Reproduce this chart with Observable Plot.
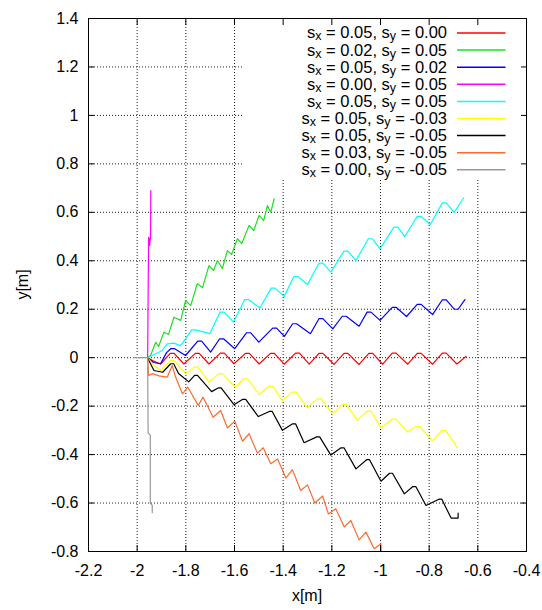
<!DOCTYPE html>
<html><head><meta charset="utf-8">
<script src="https://cdn.jsdelivr.net/npm/d3@7"></script>
<script src="https://cdn.jsdelivr.net/npm/@observablehq/plot@0.6"></script>
<style>
html,body{margin:0;padding:0;background:#fff;}
#chart{width:542px;height:610px;}
</style></head><body><div id="chart"></div>
<script>
// ---- tick values ----
const xTicks = [-2.2, -2, -1.8, -1.6, -1.4, -1.2, -1, -0.8, -0.6, -0.4];
const yTicks = [-0.8, -0.6, -0.4, -0.2, 0, 0.2, 0.4, 0.6, 0.8, 1, 1.2, 1.4];
const xLabel = "x[m]";
const yLabel = "y[m]";

// ---- series legend values ----
const sxLabels = ["0.05", "0.02", "0.05", "0.00", "0.05", "0.05", "0.05", "0.03", "0.00"];
const syLabels = ["0.00", "0.05", "0.02", "0.05", "0.05", "-0.03", "-0.05", "-0.05", "-0.05"];
const seriesColors = ["#ff0000", "#1ee01e", "#0000ff", "#ff00ff", "#00ffff", "#ffff00", "#000000", "#ff6a30", "#999999"];

// ---- trajectories [x, y] ----
const red = [[-1.957,0],[-1.937,-0.012],[-1.904,-0.026],
  [-1.864,0.018],[-1.848,0.018],[-1.808,-0.026],
  [-1.761,0.018],[-1.745,0.018],[-1.705,-0.026],
  [-1.658,0.019],[-1.642,0.019],[-1.602,-0.025],
  [-1.555,0.018],[-1.539,0.018],[-1.499,-0.026],
  [-1.452,0.018],[-1.436,0.018],[-1.396,-0.027],
  [-1.349,0.019],[-1.333,0.019],[-1.293,-0.027],
  [-1.253,0.018],[-1.237,0.018],[-1.191,-0.028],
  [-1.150,0.018],[-1.134,0.018],[-1.088,-0.028],
  [-1.048,0.018],[-1.032,0.018],[-0.991,-0.027],
  [-0.952,0.019],[-0.936,0.019],[-0.888,-0.027],
  [-0.849,0.018],[-0.833,0.018],[-0.786,-0.027],
  [-0.746,0.019],[-0.730,0.019],[-0.686,-0.026],[-0.649,0.005]];
const green = [[-1.957,0],[-1.945,0.009],[-1.924,0.064],[-1.912,0.046],[-1.890,0.105],[-1.871,0.096],[-1.849,0.167],[-1.821,0.154],[-1.801,0.236],[-1.780,0.215],[-1.753,0.305],[-1.731,0.290],[-1.705,0.380],[-1.686,0.360],[-1.670,0.401],[-1.650,0.368],[-1.629,0.442],[-1.612,0.426],[-1.588,0.491],[-1.570,0.471],[-1.540,0.546],[-1.521,0.525],[-1.499,0.587],[-1.480,0.566],[-1.465,0.628],[-1.451,0.600],[-1.437,0.656]];
const blue = [[-1.957,0],[-1.933,-0.020],[-1.904,-0.025],[-1.879,0.021],[-1.862,0.037],[-1.846,0.037],[-1.801,0.009],
  [-1.751,0.068],[-1.735,0.068],[-1.698,0.023],
  [-1.661,0.078],[-1.645,0.078],[-1.599,0.037],
  [-1.550,0.103],[-1.534,0.103],[-1.500,0.064],
  [-1.443,0.122],[-1.427,0.122],[-1.395,0.088],
  [-1.361,0.140],[-1.345,0.140],[-1.288,0.099],
  [-1.253,0.161],[-1.237,0.161],[-1.196,0.119],
  [-1.157,0.171],[-1.141,0.171],[-1.088,0.130],
  [-1.055,0.188],[-1.039,0.188],[-1.002,0.154],
  [-0.952,0.208],[-0.936,0.208],[-0.893,0.170],
  [-0.849,0.220],[-0.833,0.220],[-0.786,0.178],
  [-0.746,0.239],[-0.730,0.239],[-0.697,0.200],[-0.681,0.200],[-0.653,0.240]];
const magenta = [[-1.957,0],[-1.953,0.497],[-1.951,0.490],[-1.949,0.463],[-1.945,0.500],[-1.944,0.690]];
const cyan = [[-1.957,0],[-1.897,0.030],[-1.876,0.057],[-1.849,0.060],[-1.821,0.050],
  [-1.776,0.115],[-1.760,0.115],[-1.702,0.099],
  [-1.659,0.188],[-1.643,0.188],[-1.604,0.147],
  [-1.558,0.240],[-1.542,0.240],[-1.496,0.205],
  [-1.449,0.287],[-1.433,0.287],[-1.396,0.252],
  [-1.356,0.335],[-1.340,0.335],[-1.300,0.302],
  [-1.253,0.390],[-1.237,0.390],[-1.204,0.353],
  [-1.150,0.440],[-1.134,0.440],[-1.101,0.401],
  [-1.050,0.491],[-1.034,0.491],[-1.002,0.449],
  [-0.945,0.539],[-0.929,0.539],[-0.900,0.500],
  [-0.849,0.583],[-0.833,0.583],[-0.795,0.550],
  [-0.746,0.639],[-0.730,0.639],[-0.697,0.600],[-0.658,0.660]];
const yellow = [[-1.957,0],[-1.938,-0.025],[-1.904,-0.053],[-1.864,-0.012],[-1.848,-0.012],[-1.801,-0.066],
  [-1.766,-0.039],[-1.750,-0.039],[-1.705,-0.101],
  [-1.665,-0.066],[-1.649,-0.066],[-1.597,-0.122],
  [-1.562,-0.087],[-1.546,-0.087],[-1.499,-0.152],
  [-1.459,-0.118],[-1.443,-0.118],[-1.403,-0.177],
  [-1.363,-0.142],[-1.347,-0.142],[-1.300,-0.206],
  [-1.260,-0.170],[-1.244,-0.170],[-1.197,-0.232],
  [-1.157,-0.193],[-1.141,-0.193],[-1.095,-0.259],
  [-1.055,-0.221],[-1.039,-0.221],[-0.998,-0.289],
  [-0.952,-0.254],[-0.936,-0.254],[-0.888,-0.307],
  [-0.855,-0.284],[-0.839,-0.284],[-0.786,-0.342],
  [-0.748,-0.300],[-0.732,-0.300],[-0.683,-0.372]];
const black = [[-1.957,0],[-1.952,-0.012],[-1.931,-0.053],[-1.895,-0.060],[-1.862,-0.025],[-1.850,-0.025],[-1.830,-0.065],[-1.788,-0.100],
  [-1.764,-0.073],[-1.752,-0.073],[-1.694,-0.140],
  [-1.667,-0.125],[-1.655,-0.125],[-1.602,-0.194],
  [-1.566,-0.172],[-1.554,-0.172],[-1.502,-0.243],
  [-1.457,-0.222],[-1.445,-0.222],[-1.403,-0.300],
  [-1.361,-0.273],[-1.349,-0.273],[-1.314,-0.351],
  [-1.262,-0.327],[-1.250,-0.327],[-1.204,-0.402],
  [-1.162,-0.372],[-1.150,-0.372],[-1.101,-0.459],
  [-1.057,-0.421],[-1.045,-0.421],[-0.998,-0.510],
  [-0.963,-0.477],[-0.951,-0.477],[-0.902,-0.562],
  [-0.867,-0.532],[-0.855,-0.532],[-0.813,-0.610],
  [-0.760,-0.584],[-0.748,-0.584],[-0.710,-0.662],[-0.681,-0.662],[-0.681,-0.642]];
const orange = [[-1.957,0],[-1.953,-0.073],[-1.938,-0.066],[-1.911,-0.075],[-1.876,-0.080],[-1.856,-0.032],[-1.842,-0.080],[-1.814,-0.149],[-1.792,-0.122],[-1.749,-0.197],[-1.729,-0.163],[-1.688,-0.246],[-1.657,-0.218],[-1.629,-0.290],[-1.599,-0.262],[-1.567,-0.345],[-1.540,-0.314],[-1.506,-0.394],[-1.482,-0.372],[-1.451,-0.438],[-1.423,-0.418],[-1.389,-0.497],[-1.362,-0.462],[-1.328,-0.548],[-1.300,-0.525],[-1.270,-0.600],[-1.238,-0.571],[-1.214,-0.645],[-1.184,-0.624],[-1.149,-0.699],[-1.122,-0.672],[-1.088,-0.752],[-1.060,-0.720],[-1.026,-0.789],[-0.998,-0.768],[-0.997,-0.800]];
const gray = [[-2.015,0],[-1.957,0],[-1.955,-0.310],[-1.946,-0.320],[-1.946,-0.600],[-1.938,-0.610],[-1.938,-0.640]];

const seriesData = [red, green, blue, magenta, cyan, yellow, black, orange, gray];
const keys = sxLabels.map((sx, i) => `sx = ${sx}, sy = ${syLabels[i]}`);
const rows = seriesData.flatMap((pts, i) => pts.map(([x, y]) => ({x, y, key: keys[i]})));

// ---- layout ----
const W = 542, H = 610, mL = 88, mR = 16, mT = 18, mB = 59;
const fmt = v => String(Math.round(v * 10) / 10);
const gridStyle = {stroke: "#222", strokeOpacity: 1, strokeWidth: 1, strokeDasharray: "1,2"};

const svg = Plot.plot({
  width: W, height: H, marginLeft: mL, marginRight: mR, marginTop: mT, marginBottom: mB,
  style: {fontFamily: "'Liberation Sans', Arial, sans-serif", fontSize: "16px", color: "#000", background: "#fff"},
  x: {domain: [-2.2, -0.4]},
  y: {domain: [-0.8, 1.4]},
  color: {domain: keys, range: seriesColors},
  marks: [
    Plot.gridX({ticks: xTicks, ...gridStyle}),
    Plot.gridY({ticks: yTicks, ...gridStyle}),
    Plot.line(rows, {x: "x", y: "y", z: "key", stroke: "key", strokeWidth: 1.2}),
    Plot.axisX({ticks: xTicks, anchor: "bottom", tickSize: 6, dy: -6, tickFormat: () => "", label: null}),
    Plot.axisX({ticks: xTicks, anchor: "top", tickSize: 6, dy: 6, tickFormat: () => "", label: null}),
    Plot.axisY({ticks: yTicks, anchor: "left", tickSize: 6, dx: 6, tickFormat: () => "", label: null}),
    Plot.axisY({ticks: yTicks, anchor: "right", tickSize: 6, dx: -6, tickFormat: () => "", label: null}),
    Plot.axisX({ticks: xTicks, anchor: "bottom", tickSize: 0, tickPadding: 13, tickFormat: fmt, label: null}),
    Plot.axisY({ticks: yTicks, anchor: "left", tickSize: 0, tickPadding: 10, tickFormat: fmt, label: null}),
    Plot.frame({stroke: "#000", strokeWidth: 1})
  ]
});

// opaque key box (hides grid behind the key), inserted after the lines
const NS = "http://www.w3.org/2000/svg";
const lineGroups = svg.querySelectorAll('g[aria-label="line"]');
const afterLines = lineGroups.length ? lineGroups[lineGroups.length - 1].nextSibling : null;
const boxW = 283, boxH = 160;
const box = document.createElementNS(NS, "rect");
box.setAttribute("x", W - mR - boxW);
box.setAttribute("y", mT + 0.5);
box.setAttribute("width", boxW);
box.setAttribute("height", boxH);
box.setAttribute("fill", "#fff");
svg.insertBefore(box, afterLines);

// key entries
const s = d3.select(svg);
const key = s.append("g").attr("font-size", 16.5).attr("fill", "#000");
const textRight = W - mR - 79, lineX1 = W - mR - 69, lineX2 = W - mR - 20.5;
const rowStep = 17.1, row0 = mT + 15;
keys.forEach((k, i) => {
  const yy = row0 + i * rowStep;
  const t = key.append("text").attr("x", textRight).attr("y", yy + 5.4).attr("text-anchor", "end");
  t.append("tspan").text("s");
  t.append("tspan").attr("font-size", 12.5).attr("dy", 2).text("x");
  t.append("tspan").attr("dy", -2).text(` = ${sxLabels[i]}, s`);
  t.append("tspan").attr("font-size", 12.5).attr("dy", 2).text("y");
  t.append("tspan").attr("dy", -2).text(` = ${syLabels[i]}`);
  key.append("line").attr("x1", lineX1).attr("x2", lineX2).attr("y1", yy).attr("y2", yy)
    .attr("stroke", seriesColors[i]).attr("stroke-width", 1.5);
});

// axis titles
s.append("text").attr("x", (mL + W - mR) / 2).attr("y", H - 9).attr("text-anchor", "middle")
  .attr("font-size", 16).attr("fill", "#000").text(xLabel);
s.append("text").attr("transform", `translate(22,${(mT + H - mB) / 2}) rotate(-90)`)
  .attr("text-anchor", "middle").attr("dy", "0.35em").attr("font-size", 16).attr("fill", "#000").text(yLabel);

document.getElementById("chart").appendChild(svg);
</script></body></html>
